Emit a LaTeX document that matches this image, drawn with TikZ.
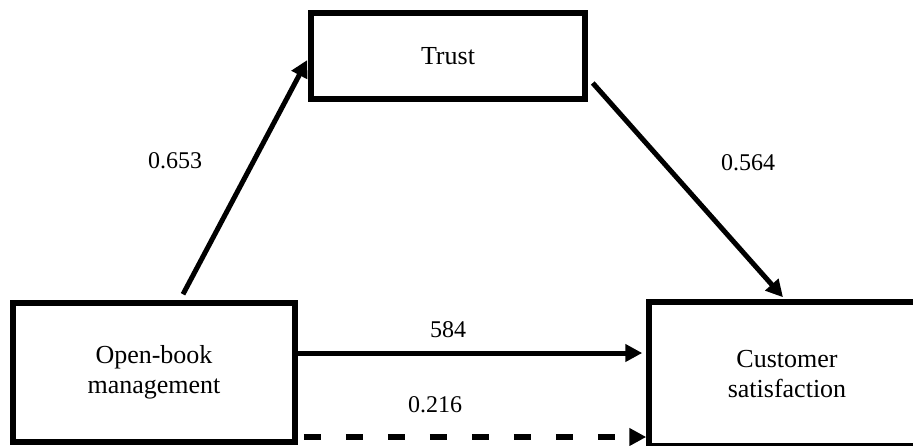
\documentclass[tikz,border=0pt]{standalone}
\usepackage{fontspec}
\setmainfont{Liberation Serif}
\usetikzlibrary{arrows.meta}
\tikzset{
  box/.style={draw=black, line width=5.5pt, fill=white, align=center, inner sep=0pt,
    font=\fontsize{26}{30}\selectfont},
  arr/.style={line width=5pt, -{Triangle[length=17pt,width=17pt]}},
  darr/.style={arr, line width=5.5pt, dash pattern=on 17pt off 25pt},
  lbl/.style={font=\fontsize{24}{28}\selectfont, inner sep=0pt}
}
\begin{document}
\begin{tikzpicture}[x=1pt,y=-1pt]
\useasboundingbox (0,0) rectangle (913,445);
\clip (0,0) rectangle (913,445);
\node[box, minimum width=274pt, minimum height=86pt] (trust) at (448,56) {Trust};
\node[box, minimum width=282pt, minimum height=139pt] (obm) at (154,372.5) {Open-book\\management};
\node[box, minimum width=276pt, minimum height=144pt] (cs) at (787,374) {Customer\\satisfaction};
\draw[arr] ([xshift=29pt,yshift=6pt]obm.north) -- ([xshift=-1pt,yshift=-4pt]trust.west);
\draw[arr] ([xshift=5pt,yshift=-27pt]trust.east) -- ([xshift=-4pt,yshift=2pt]cs.north);
\draw[arr, shorten >=4pt] ([yshift=19.5pt]obm.east) -- ([yshift=19.5pt]obm.east -| cs.west);
\draw[darr] ([xshift=6pt,yshift=-64.5pt]obm.east) -- ([yshift=-64.5pt]obm.east -| cs.west);
\node[lbl] (l1) at (175,161) {0.653};
\node[lbl] (l2) at (748,163) {0.564};
\node[lbl] (l3) at (448,330) {584};
\node[lbl] (l4) at (435,405) {0.216};
\end{tikzpicture}
\end{document}
